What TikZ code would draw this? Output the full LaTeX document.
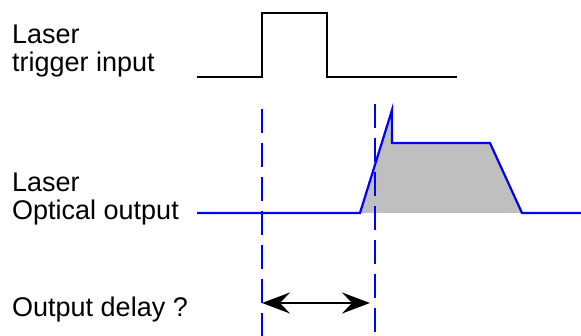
\documentclass[tikz,border=0pt]{standalone}
\usepackage{fontspec}
\setmainfont{Liberation Sans}
\usetikzlibrary{arrows.meta}

\tikzset{
  lbl/.style={font=\fontsize{27}{28.5}\selectfont, anchor=base west, align=left, inner sep=0pt},
  trace/.style={line width=2.2pt},
  marker/.style={blue, line width=2.2pt, dash pattern=on 24pt off 10pt},
  delay/.style={line width=2.2pt, {Stealth[length=28pt,width=21pt,inset=10pt]}-{Stealth[length=28pt,width=21pt,inset=10pt]}}
}

\begin{document}
\begin{tikzpicture}[x=1pt,y=-1pt]
\useasboundingbox (0,0) rectangle (581,336);

% Labels
\node[lbl] (trig) at (12,72) {Laser\\trigger input};
\node[lbl] (opt) at (12,220) {Laser\\Optical output};
\node[lbl] (dly) at (12,317) {Output delay ?};

% Trigger pulse
\draw[trace] (197,77) -- (262,77) -- (262,13) -- (327,13) -- (327,77) -- (457,77);

% Optical pulse
\fill[gray!50] (360,213) -- (392,110) -- (392,143) -- (490,143) -- (522,213) -- cycle;
\draw[trace,blue] (197,213) -- (360,213) -- (392,110) -- (392,143) -- (490,143) -- (522,213) -- (581,213);

% Time markers
\coordinate (m1top) at (262,109);
\coordinate (m1bot) at (262,336);
\coordinate (m2top) at (375,104);
\coordinate (m2bot) at (375,332);
\draw[marker] (m1top) -- (m1bot);
\draw[marker] (m2top) -- (m2bot);

% Delay
\coordinate (d1) at (262,303);
\coordinate (d2) at (370,303);
\draw[delay] (d1) -- (d2);
\end{tikzpicture}
\end{document}
